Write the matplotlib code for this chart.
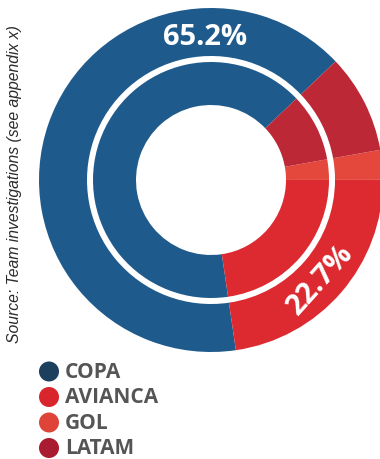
import matplotlib.pyplot as plt
from matplotlib.patches import Circle

# market share (%)
airlines = ['COPA', 'AVIANCA', 'GOL', 'LATAM']
share = [65.2, 22.7, 2.8, 9.3]
ring_colors = ['#1e5b8c', '#dd2930', '#e4483c', '#bd2837']
legend_colors = ['#1d3f5e', '#d8262c', '#de4438', '#a91b30']
labels_shown = ['65.2%', '22.7%', '', '']

W, H = 380, 460
fig = plt.figure(figsize=(W / 100, H / 100), dpi=100)

# donut, centre at (211,181) px, outer radius 172 px
cx, cy, R = 211, 181, 172
ax = fig.add_axes([(cx - R) / W, (H - cy - R) / H, 2 * R / W, 2 * R / H])
ax.pie(share, radius=1.0, startangle=43.6, colors=ring_colors,
       wedgeprops=dict(width=48 / R, linewidth=0))
ax.pie(share, radius=118 / R, startangle=43.6, colors=ring_colors,
       wedgeprops=dict(width=43 / R, linewidth=0))
ax.set_xlim(-1, 1)
ax.set_ylim(-1, 1)
ax.set_aspect('equal')
ax.axis('off')

ax.text(-6 / R, 144 / R, labels_shown[0], color='white', fontsize=21,
        fontweight='bold', family='Open Sans', ha='center', va='center')
ax.text(109 / R, -99 / R, labels_shown[1], color='white', fontsize=21,
        fontweight='bold', family='Open Sans', ha='center', va='center',
        rotation=48)

# overlay in pixel coords for legend + source note
ov = fig.add_axes([0, 0, 1, 1])
ov.set_xlim(0, W)
ov.set_ylim(H, 0)
ov.axis('off')

ov.text(15, 184, 'Source: Team investigations (see appendix x)', rotation=90,
        style='italic', fontsize=11.3, family='Liberation Sans', color='#2a2a2a',
        ha='center', va='center')

for i, (name, c) in enumerate(zip(airlines, legend_colors)):
    y = 372.5 + i * 25.5
    ov.add_patch(Circle((49, y), 10, color=c, lw=0))
    ov.text(65, y, name, fontsize=15, fontweight='bold', family='Open Sans',
            color='#555555', ha='left', va='center')

fig.savefig('out.png', dpi=100)
